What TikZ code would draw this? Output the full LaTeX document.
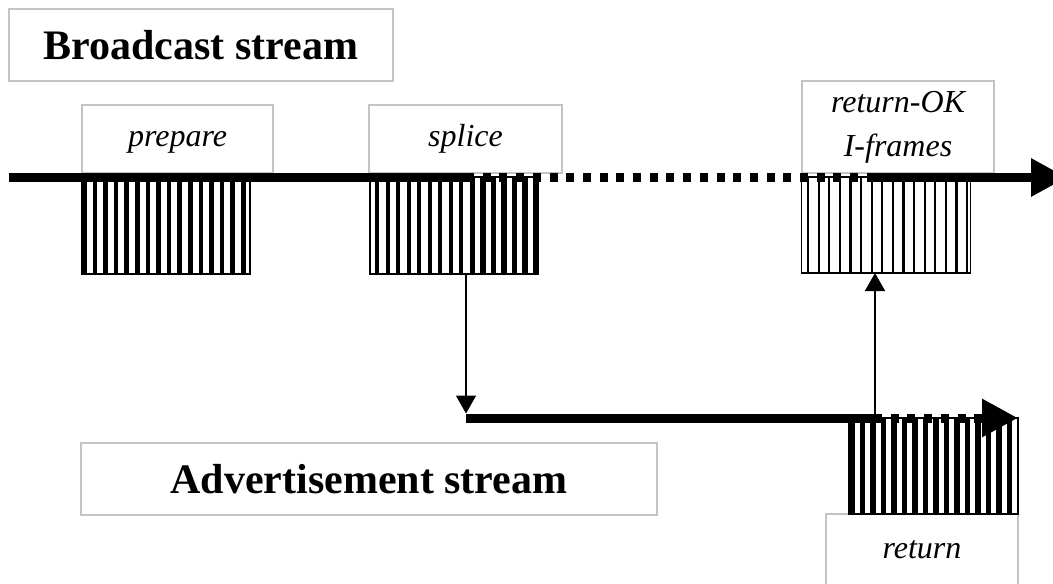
\documentclass[tikz,border=0pt]{standalone}
\usepackage{fontspec}
\setmainfont{Liberation Serif}
\usetikzlibrary{arrows.meta}

\definecolor{boxgray}{HTML}{C4C4C4}

\tikzset{
  titlebox/.style={draw=boxgray, line width=1.2pt, inner sep=0pt,
    font=\fontsize{42}{50}\selectfont\bfseries},
  labelbox/.style={draw=boxgray, line width=1.2pt, inner sep=0pt,
    font=\fontsize{32}{40}\selectfont\itshape, text height=22pt, text depth=8pt},
  twolinebox/.style={draw=boxgray, line width=1.2pt, inner sep=0pt, align=center,
    font=\fontsize{32}{44}\selectfont\itshape},
  stream/.style={line width=9pt},
  gapstream/.style={line width=9pt, dash pattern=on 8pt off 8.7pt},
  streamhead/.style={-{Triangle[length=36pt,width=36pt]}},
  jump/.style={line width=1.6pt, -{Triangle[length=18pt,width=20pt]}},
  framesedge/.style={line width=2pt},
}

\begin{document}
\begin{tikzpicture}[x=1pt,y=-1pt]
\useasboundingbox (0,0) rectangle (1053,584);
\clip (0,0) rectangle (1053,584);

% stream titles
\node[titlebox, minimum width=384pt, minimum height=72pt] (bcast) at (201,45) {Broadcast stream};
\node[titlebox, minimum width=576pt, minimum height=72pt] (adv) at (369,479) {Advertisement stream};

% event labels
\node[labelbox, minimum width=191pt, minimum height=68pt] (prep) at (177.5,139) {prepare};
\node[labelbox, minimum width=193pt, minimum height=68pt] (spl) at (465.5,139) {splice};
\node[twolinebox, minimum width=192pt, minimum height=92pt] (ok) at (898,127) {return-OK\\I-frames};
\node[labelbox, minimum width=192pt, minimum height=74pt] (ret) at (922,551) {return};

% frame blocks: prepare
\draw[framesedge] (82,177) rectangle (250,274);
\foreach \i in {0,...,15}
  \fill ({82+\i*10.6},177) rectangle +(4.6,97);

% frame blocks: splice (heavier bars after the splice point)
\draw[framesedge] (370,177) rectangle (538,274);
\foreach \i in {0,...,15}{
  \pgfmathsetmacro\bx{375+\i*10.5}
  \pgfmathsetmacro\bw{\bx<464 ? 4.2 : 5.5}
  \fill (\bx,177) rectangle +(\bw,97);
}

% frame blocks: return-OK I-frames
\draw[line width=1.5pt] (801.5,177) rectangle (970.5,273);
\foreach \i in {0,...,15}
  \draw[line width=2.2pt] ({808+\i*10.6},177) -- ({808+\i*10.6},273);

% frame blocks: return
\draw[framesedge] (849,418) rectangle (1018,514);
\foreach \i in {0,...,15}
  \fill ({849+\i*10.5},418) rectangle +(5.5,96);

% broadcast stream line
\coordinate (bstart) at (9,177.5);
\coordinate (bsplice) at (466,177.5);
\coordinate (bresume) at (875,177.5);
\coordinate (bend) at (1067,177.5);
\draw[stream] (bstart) -- (bsplice);
\draw[gapstream] (bsplice) -- (bresume);
\draw[stream, streamhead] (bresume) -- (bend);

% advertisement stream line
\coordinate (astart) at (466,418);
\coordinate (aresume) at (874,418);
\coordinate (aend) at (1018,418);
\draw[stream] (astart) -- (aresume);
\draw[gapstream, streamhead] (aresume) -- (aend);

% switching arrows
\coordinate (spliceout) at (466,274);
\coordinate (advin) at (466,413.5);
\coordinate (advout) at (875,413.5);
\coordinate (okin) at (875,273);
\draw[jump] (spliceout) -- (advin);
\draw[jump] (advout) -- (okin);
\end{tikzpicture}
\end{document}
